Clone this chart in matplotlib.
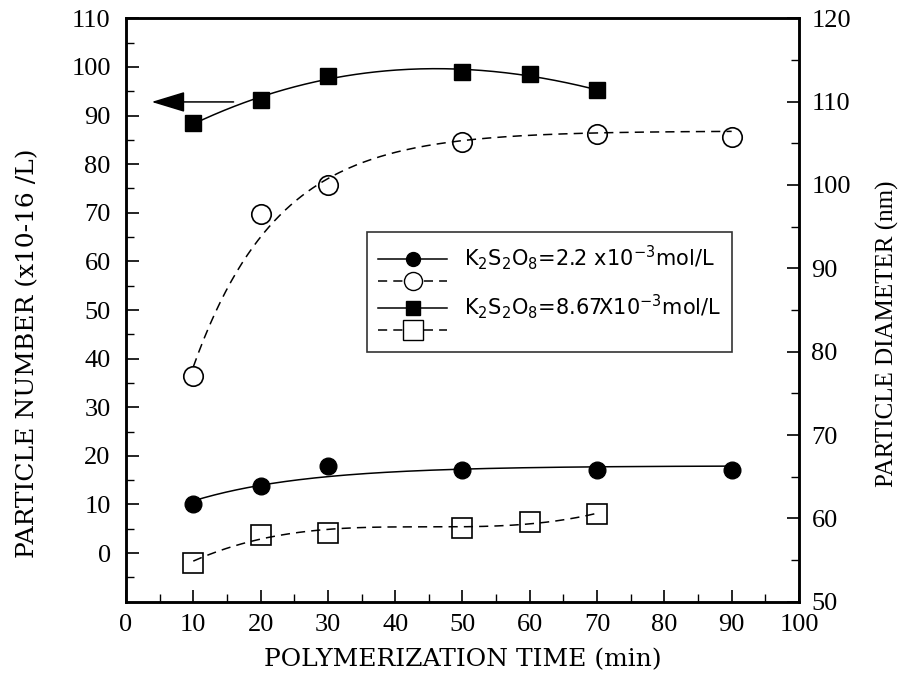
import numpy as np
import matplotlib
matplotlib.use('Agg')
import matplotlib.pyplot as plt
from matplotlib.lines import Line2D

plt.rcParams['font.family'] = ['Liberation Serif', 'DejaVu Serif']
plt.rcParams['mathtext.fontset'] = 'dejavusans'
plt.rcParams['mathtext.default'] = 'regular'

# polymerization time (min)
t_num_low = [10, 20, 30, 50, 70, 90]
t_num_high = [10, 20, 30, 50, 60, 70]
t_dia_low = [10, 20, 30, 50, 70, 90]
t_dia_high = [10, 20, 30, 50, 60, 70]

# particle number (x10^16 /L), left axis
num_low = [10.1, 13.9, 18.0, 17.1, 17.1, 17.1]
num_high = [88.4, 93.3, 98.1, 99.0, 98.5, 95.2]

# particle diameter (nm), right axis
dia_low = [77.1, 96.5, 100.0, 105.2, 106.1, 105.8]
dia_high = [54.7, 58.0, 58.3, 58.9, 59.6, 60.5]

label_low = r'K$_2$S$_2$O$_8$=2.2 x10$^{-3}$mol/L'
label_high = r'K$_2$S$_2$O$_8$=8.67X10$^{-3}$mol/L'


def saturation_fit(t, v, tau):
    # least squares fit of a + b*exp(-t/tau) for a given time constant
    t = np.asarray(t, float)
    A = np.column_stack([np.ones_like(t), np.exp(-t / tau)])
    coef, *_ = np.linalg.lstsq(A, np.asarray(v, float), rcond=None)
    return lambda x: coef[0] + coef[1] * np.exp(-x / tau)


def poly_fit(t, v, deg=3):
    p = np.polyfit(t, v, deg)
    return lambda x: np.polyval(p, x)


fig = plt.figure(figsize=(9.03, 6.86), dpi=100)
ax = fig.add_axes([0.1395, 0.1229, 0.7453, 0.8504])
ax2 = ax.twinx()

lw = 1.1
dash = (0, (6, 4))

# fitted curves
xs = np.linspace(10, 90, 200)
xs7 = np.linspace(10, 70, 200)
ax.plot(xs, saturation_fit(t_num_low, num_low, 17)(xs), color='k', lw=lw)
ax.plot(xs7, poly_fit(t_num_high, num_high)(xs7), color='k', lw=lw)
ax2.plot(xs, saturation_fit(t_dia_low, dia_low, 12.5)(xs), color='k', lw=lw, ls=dash)
ax2.plot(xs7, poly_fit(t_dia_high, dia_high)(xs7), color='k', lw=lw, ls=dash)

# measured points
ax.plot(t_num_low, num_low, 'o', color='k', ms=12, ls='none')
ax.plot(t_num_high, num_high, 's', color='k', ms=12, ls='none')
ax2.plot(t_dia_low, dia_low, 'o', mfc='none', mec='k', mew=1.2, ms=14, ls='none')
ax2.plot(t_dia_high, dia_high, 's', mfc='none', mec='k', mew=1.2, ms=14, ls='none')

# arrow pointing to the left axis
ax.annotate('', xy=(3.4, 92.8), xytext=(16.4, 92.8),
            arrowprops=dict(arrowstyle='-|>,head_length=1.05,head_width=0.32',
                            mutation_scale=20, color='k', lw=1.1))

ax.set_xlim(0, 100)
ax.set_ylim(-10, 110)
ax2.set_ylim(50, 120)
ax.set_xticks(np.arange(0, 101, 10))
ax.set_xticks(np.arange(5, 100, 10), minor=True)
ax.set_yticks(np.arange(0, 111, 10))
ax.set_yticks(np.arange(-5, 110, 10), minor=True)
ax2.set_yticks(np.arange(50, 121, 10))
ax2.set_yticks(np.arange(55, 120, 10), minor=True)

for a in (ax, ax2):
    a.tick_params(which='major', direction='in', length=9, width=1.2, labelsize=19)
    a.tick_params(which='minor', direction='in', length=6, width=1.0)
    for s in a.spines.values():
        s.set_linewidth(1.8)
ax.tick_params(axis='y', pad=11)
ax.tick_params(axis='x', pad=9)
ax2.tick_params(axis='y', pad=9)

fig.text(0.512, 0.038, 'POLYMERIZATION TIME (min)', ha='center', va='center',
         fontsize=18, family='DejaVu Serif')
fig.text(0.031, 0.485, 'PARTICLE NUMBER (x10-16 /L)', rotation=90,
         ha='center', va='center', fontsize=18, family='DejaVu Serif')
fig.text(0.983, 0.514, 'PARTICLE DIAMETER (nm)', rotation=90,
         ha='center', va='center', fontsize=18)

handles = [
    Line2D([], [], color='k', lw=lw, marker='o', ms=10),
    Line2D([], [], color='k', lw=lw, ls=dash, marker='o', mfc='white', mec='k', ms=13),
    Line2D([], [], color='k', lw=lw, marker='s', ms=10),
    Line2D([], [], color='k', lw=lw, ls=dash, marker='s', mfc='white', mec='k', ms=14),
]
leg = ax.legend(handles, [label_low, '', label_high, ''],
                loc='upper left', bbox_to_anchor=(0.358, 0.634),
                borderaxespad=0, frameon=True, fancybox=False,
                edgecolor='k', handlelength=3.3, handletextpad=0.8,
                labelspacing=0.0, borderpad=0.55, handleheight=0.6,
                prop={'family': 'DejaVu Sans', 'size': 15})
leg.get_frame().set_linewidth(1.2)

fig.savefig('out.png', dpi=100)
